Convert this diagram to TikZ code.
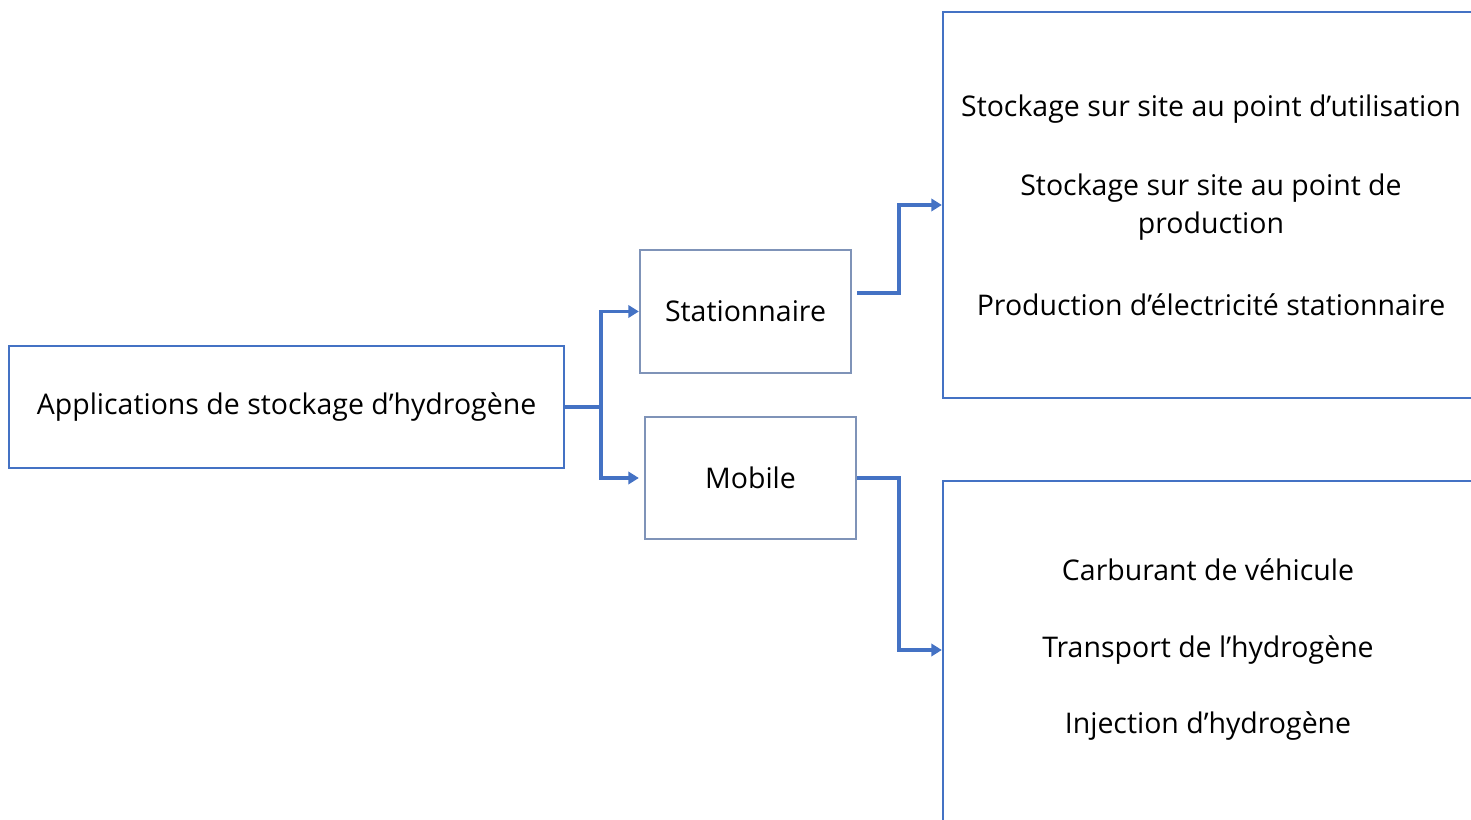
\documentclass[tikz,border=0pt]{standalone}
\usepackage{fontspec}
\setmainfont{Open Sans}
\usetikzlibrary{arrows.meta}
\definecolor{boxblue}{HTML}{4472C4}
\definecolor{greyblue}{HTML}{7F93B8}
\tikzset{
  bigbox/.style={draw=boxblue, line width=1.3pt, inner sep=0pt},
  smallbox/.style={draw=greyblue, line width=1.3pt, minimum width=4.22cm, minimum height=2.45cm, inner sep=0pt},
  label/.style={font=\fontsize{16.2}{21.5}\selectfont, align=center},
  link/.style={draw=boxblue, line width=2pt},
  arrowlink/.style={link, -{Triangle[length=6pt,width=7pt]}}
}
\begin{document}
\begin{tikzpicture}
  \clip (0,0) rectangle (29.42,16.4);
  % boites
  \node[bigbox, minimum width=11.1cm, minimum height=2.44cm, label] (appli) at (5.73,8.26) {Applications de stockage d’hydrogène};
  \node[smallbox, label] (stat) at (14.91,10.17) {Stationnaire};
  \node[smallbox, label] (mob) at (15.01,6.84) {Mobile};
  \node[bigbox, minimum width=11cm, minimum height=7.72cm] (fixe) at (24.36,12.3) {};
  \node[bigbox, minimum width=11cm, minimum height=7.8cm] (roule) at (24.36,2.88) {};
  % textes des usages
  \node[label] (util) at (24.22,14.22) {Stockage sur site au point d’utilisation};
  \node[label] (prod) at (24.22,12.26) {Stockage sur site au point de\\production};
  \node[label] (elec) at (24.22,10.3) {Production d’électricité stationnaire};
  \node[label] (carb) at (24.16,5.0) {Carburant de véhicule};
  \node[label] (trans) at (24.16,3.4) {Transport de l’hydrogène};
  \node[label] (inj) at (24.16,1.88) {Injection d’hydrogène};
  % liaisons
  \coordinate (fork) at (12.02,8.26);
  \draw[link] (appli.east) -- (fork);
  \draw[arrowlink] (fork) |- (stat.west);
  \draw[arrowlink] (fork) |- ([xshift=-0.1cm]mob.west);
  \draw[arrowlink] ([xshift=0.1cm,yshift=0.37cm]stat.east) -| (17.98,12.3) -- (fixe.west);
  \draw[arrowlink] (mob.east) -| (17.98,3.4) -- (roule.west |- trans);
\end{tikzpicture}
\end{document}
